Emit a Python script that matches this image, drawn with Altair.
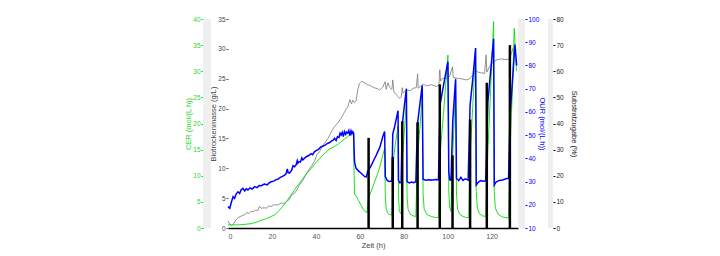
import altair as alt
import pandas as pd

# ---------------- data ----------------
# OUR (mol/(L h)) - blue, right axis 10..100
our_t = [0, 0.8, 1.5, 2.3, 3.0, 3.7, 4.5, 5.3, 6.0, 6.8, 7.6, 8.3, 9.1, 10.0, 11.0, 12.1, 13.2, 14.2,
         15.2, 16.5, 17.8, 19.0, 19.7, 21.0, 22.0, 22.7, 23.8, 24.8, 25.8, 26.5, 27.0, 27.4, 28.0,
         29.0, 29.6, 30.3, 31.0, 31.5, 31.8, 32.3, 33.0, 33.6, 34.1, 34.8, 35.8, 36.8, 37.8, 38.5,
         39.4, 40.3, 41.2, 42.4, 43.4, 44.5, 45.5, 46.3, 47.2, 48.0, 48.5, 49.2, 49.8, 50.5, 51.0,
         51.5, 52.0, 52.5, 53.0, 53.6, 54.0, 54.5, 55.0, 55.5, 56.0, 56.4, 56.8, 57.2,
         57.4, 57.6, 58.3, 59.5, 60.6, 61.8, 62.4, 63.0, 63.6, 64.5, 65.5, 66.5, 67.5, 68.2, 69.0,
         69.8, 70.5, 71.3,
         71.6, 72.5, 73.5, 74.6,
         75.0, 75.8, 76.6, 77.4, 77.6, 78.2, 78.8,
         79.3, 80.2, 81.2, 81.5, 82.5, 83.5, 84.5, 85.5,
         86.2, 87.3, 88.4, 88.8, 90.0, 91.5, 93.0, 94.5, 95.8,
         96.5, 98.3, 100.1, 100.5, 100.9, 101.5,
         102.3, 103.0, 103.6, 104.0, 105.0, 106.0, 107.0, 108.0, 109.3,
         110.2, 111.5, 112.7, 113.0, 114.0, 115.0, 116.0, 117.3,
         118.3, 119.6, 120.9, 121.2, 122.0, 123.5, 125.0, 126.5, 127.7,
         128.4, 129.6, 130.6, 131.4]
our_v = [19.2, 18.5, 21.0, 23.5, 22.8, 24.6, 25.6, 24.9, 26.5, 27.1, 26.0, 26.9, 26.4, 27.3, 26.8, 27.8, 27.4, 28.3,
         28.2, 28.9, 28.6, 29.6, 29.9, 30.3, 30.9, 31.0, 31.8, 32.2, 32.8, 33.5, 35.4, 33.8, 33.6,
         34.9, 36.8, 36.4, 37.2, 39.0, 37.9, 38.6, 38.4, 40.2, 39.3, 40.0, 40.8, 41.2, 42.0, 41.6,
         42.9, 43.4, 43.9, 45.0, 45.3, 45.9, 46.5, 46.8, 47.5, 47.9, 48.6, 47.7, 49.3, 49.0, 50.8,
         50.0, 51.2, 49.4, 51.5, 50.3, 51.3, 50.8, 52.0, 49.8, 51.8, 50.6, 51.5, 50.8,
         43.0, 38.5, 35.7, 34.5, 33.6, 32.5, 32.1, 32.0, 34.5, 35.7, 37.5, 39.5, 41.4, 42.9, 44.5,
         47.0, 49.5, 51.5,
         32.1, 30.4, 30.0, 30.2,
         50.5, 53.5, 57.0, 60.5, 30.5, 29.4, 29.6,
         54.4, 62.0, 70.0, 30.0, 29.4, 29.8, 29.5, 29.9,
         54.4, 63.0, 71.4, 31.0, 30.6, 30.8, 30.7, 30.9, 30.8,
         63.0, 72.5, 81.6, 34.2, 30.8, 30.5,
         56.0, 66.0, 74.0, 31.3, 30.4, 31.8, 30.5, 31.2, 30.6,
         63.0, 75.0, 87.5, 28.5, 29.8, 30.4, 30.1, 30.3,
         64.4, 78.0, 91.5, 28.5, 29.8, 30.5, 30.7, 31.2, 31.4,
         58.7, 75.0, 89.0, 80.0]

# CER (mol/(L h)) - green, left outer axis 0..40
cer_t = [0, 5, 10, 13, 15.2, 17.5, 19.7, 21.5, 22.7, 24.5, 26.5, 28.5, 30.3, 32.2, 34.1, 36.0,
         37.9, 39.8, 41.7, 43.6, 45.5, 47.0, 48.5, 50.0, 51.5, 53.0, 54.5, 55.7, 56.8, 57.2,
         57.4, 57.6, 58.5, 59.5, 60.5, 61.5, 62.5, 63.3, 63.8, 64.5, 66.0, 67.5, 69.0, 70.2, 71.3,
         71.6, 72.0, 72.6, 73.5, 74.6,
         75.0, 76.0, 77.4, 77.6, 78.0, 78.8,
         79.3, 80.2, 81.2, 81.5, 82.0, 83.0, 84.5, 85.5,
         86.2, 87.3, 88.4, 88.8, 89.3, 90.5, 92.5, 94.5, 95.8,
         96.5, 98.3, 100.1, 100.5, 100.9, 101.5,
         102.3, 103.0, 103.6, 104.0, 104.5, 105.5, 107.0, 108.5, 109.6,
         110.2, 111.5, 112.7, 113.0, 113.5, 114.5, 116.0, 117.3,
         118.3, 119.6, 120.9, 121.2, 121.7, 123.0, 125.0, 127.7,
         128.4, 129.5, 130.3, 130.8, 131.3]
cer_v = [0.6, 0.6, 0.8, 1.1, 1.5, 1.8, 2.2, 2.6, 3.1, 3.9, 5.0, 6.2, 7.3, 8.4, 9.5, 10.5,
         11.4, 12.4, 13.3, 14.1, 14.9, 15.3, 15.6, 16.0, 16.5, 17.0, 17.5, 17.9, 18.4, 17.9,
         10.0, 6.5, 6.0, 5.2, 4.4, 3.6, 3.1, 3.0, 5.5, 6.3, 8.0, 9.7, 11.5, 13.5, 15.3,
         6.0, 3.8, 2.9, 2.6, 2.5,
         12.0, 15.5, 19.5, 6.0, 3.2, 2.7,
         13.0, 18.0, 24.2, 6.0, 3.5, 2.6, 2.3, 2.2,
         13.5, 19.0, 25.1, 6.5, 3.6, 2.6, 2.2, 2.0, 2.0,
         14.0, 23.0, 33.1, 7.0, 4.0, 3.2,
         14.0, 21.0, 28.6, 6.5, 3.6, 2.6, 2.2, 2.0, 2.0,
         14.0, 24.0, 34.4, 7.0, 3.7, 2.7, 2.3, 2.2,
         15.0, 27.0, 39.5, 7.0, 3.8, 2.6, 2.1, 1.9,
         15.0, 27.0, 38.2, 34.0, 30.0]

# Biotrockenmasse (g/L) - gray, left inner axis 0..35
btm_t = [0, 0.8, 1.6, 2.5, 3.5, 4.5, 5.5, 6.5, 7.6, 8.5, 9.5, 10.5, 11.4, 12.5, 13.5, 14.3, 15.2,
         16.5, 17.5, 18.5, 19.7, 21.0, 22.7, 24.5, 25.5, 26.5, 28.0, 29.0, 30.3, 31.5, 32.5, 34.1,
         36.0, 37.9, 39.5, 40.5, 41.7, 43.5, 45.5, 47.0, 48.5, 50.0, 51.5, 53.0, 54.5, 55.5, 56.2,
         56.8, 57.6, 58.3, 59.0, 59.8, 60.9, 62.0, 63.6, 65.0, 66.5, 68.2, 69.0, 70.5, 71.5, 72.0,
         72.8, 73.5, 74.6, 75.0, 75.5, 76.6, 77.5, 78.1, 78.9, 79.3, 79.7, 81.2, 83.0, 84.2, 85.7,
         86.3, 86.6, 88.7, 90.5, 92.5, 94.8, 96.0, 96.4, 96.8, 97.8, 99.0, 100.9, 102.2, 102.5,
         103.9, 106.0, 108.4, 110.0, 111.5, 113.0, 115.0, 116.8, 117.5, 117.8, 119.0, 120.6,
         122.5, 124.5, 126.6, 128.0, 129.0, 129.7, 130.4, 131.2]
btm_v = [1.2, 0.6, 0.4, 0.7, 1.3, 1.7, 1.9, 2.1, 2.2, 2.6, 2.4, 2.8, 2.7, 3.0, 2.9, 3.6, 3.3,
         3.4, 3.3, 3.7, 3.6, 3.9, 3.85, 4.2, 4.1, 4.4, 4.8, 5.6, 5.8, 6.5, 7.2, 8.0,
         9.3, 10.3, 11.3, 12.3, 12.8, 14.0, 15.0, 16.1, 17.0, 17.6, 18.4, 19.4, 20.3, 21.5, 20.8,
         21.4, 21.0, 21.3, 23.0, 24.2, 24.6, 24.3, 24.0, 23.8, 23.5, 23.3, 23.1, 23.6, 24.5, 23.2,
         24.3, 23.6, 23.2, 24.8, 22.8, 22.3, 22.0, 21.7, 22.0, 23.5, 22.6, 23.1, 23.0, 23.4, 23.5,
         25.8, 23.4, 24.1, 23.8, 24.0, 23.7, 23.9, 26.5, 24.6, 25.1, 25.0, 25.4, 27.0, 25.2,
         25.1, 25.0, 24.8, 25.0, 25.6, 26.2, 26.0, 25.9, 29.0, 26.1, 27.0, 27.8,
         28.2, 28.3, 28.2, 28.3, 29.2, 30.1, 30.4, 29.8]

# Substratzugabe (%) - black bars, right outer axis 0..80
feed_t = [64.0, 75.0, 79.3, 86.3, 96.4, 102.2, 110.2, 117.8, 128.3]
feed_pct = [34.5, 27.2, 40.8, 40.5, 55.0, 27.8, 41.5, 55.6, 70.0]

x_ticks = [0, 20, 40, 60, 80, 100, 120]

# ---------------- chart ----------------
W, H = 290, 209
FONT = "Liberation Sans"
GREEN = "#00e000"
GREEN_T = "#2ad42a"
BLUE = "#0000ff"
GRAY = "#777777"
BAND = "#efefef"

our_df = pd.DataFrame({"t": our_t, "v": our_v, "i": range(len(our_t))})
cer_df = pd.DataFrame({"t": cer_t, "v": cer_v, "i": range(len(cer_t))})
btm_df = pd.DataFrame({"t": btm_t, "v": btm_v, "i": range(len(btm_t))})
feed_df = pd.DataFrame({"t": feed_t, "v": feed_pct, "zero": [0] * len(feed_t)})
one = pd.DataFrame({"a": [0]})

xscale = alt.Scale(domain=[0, 132], nice=False, zero=False)
x_axis = alt.Axis(values=x_ticks, title="Zeit (h)", ticks=False, domainColor="#000000",
                  domainWidth=1.5, labelFontSize=7, labelColor="#555555", labelPadding=4,
                  titleFontSize=7.5, titleColor="#444444", titlePadding=2, titleFontWeight="normal",
                  grid=False, labelFont=FONT, titleFont=FONT)
x_main = alt.X("t:Q", scale=xscale, axis=x_axis)


def band(x0, x1):
    return alt.Chart(one).mark_rect(color=BAND).encode(
        x=alt.value(x0), x2=alt.value(x1), y=alt.value(0), y2=alt.value(H))


def yaxis(title, orient, offset, values, color, tcolor, titlex, angle, domain=False):
    return alt.Axis(title=title, orient=orient, offset=offset, values=values, grid=False,
                    domain=domain, domainColor=color, domainWidth=1, tickColor=color, tickSize=2,
                    labelColor=tcolor, labelFontSize=6.5, labelPadding=1, labelFont=FONT,
                    titleFont=FONT, titleFontSize=7.5, titleColor=tcolor, titleFontWeight="normal",
                    titleX=titlex, titleY=H / 2, titleAngle=angle, titleAlign="center",
                    titleBaseline="middle")


btm_layer = alt.Chart(btm_df).mark_line(color=GRAY, strokeWidth=0.8).encode(
    x=x_main,
    y=alt.Y("v:Q", scale=alt.Scale(domain=[0, 35], nice=False),
            axis=yaxis("Biotrockenmasse (g/L)", "left", 0, list(range(0, 36, 5)),
                       "#555555", "#444444", -15, 270)),
    order="i:Q")

cer_layer = alt.Chart(cer_df).mark_line(color=GREEN, strokeWidth=0.9).encode(
    x=x_main,
    y=alt.Y("v:Q", scale=alt.Scale(domain=[0, 40], nice=False),
            axis=yaxis("CER (mol/(L h))", "left", 25, list(range(0, 41, 5)),
                       GREEN, GREEN_T, -15, 270, domain=True)),
    order="i:Q")

our_layer = alt.Chart(our_df).mark_line(color=BLUE, strokeWidth=1.5).encode(
    x=x_main,
    y=alt.Y("v:Q", scale=alt.Scale(domain=[10, 100], nice=False, zero=False),
            axis=yaxis("OUR (mol/(L h))", "right", 7, list(range(10, 101, 10)),
                       BLUE, BLUE, 16, 90)),
    order="i:Q")

feed_layer = alt.Chart(feed_df).mark_rule(color="#000000", strokeWidth=2.5).encode(
    x=x_main,
    y=alt.Y("v:Q", scale=alt.Scale(domain=[0, 80], nice=False),
            axis=yaxis("Substratzugabe (%)", "right", 35, list(range(0, 81, 10)),
                       "#000000", "#222222", 20, 90)),
    y2="zero:Q")

chart = alt.layer(
    band(-25, -17), band(W, W + 7), band(W + 30, W + 35),
    btm_layer, cer_layer, our_layer, feed_layer
).resolve_scale(y="independent").properties(
    width=W, height=H,
    autosize=alt.AutoSizeParams(type="none"),
    padding={"left": 228, "top": 19, "right": 720 - 228 - W, "bottom": 256 - 19 - H},
    background="#ffffff"
).configure_view(stroke=None).configure_axis(
    titleFontWeight="normal", labelFont=FONT, titleFont=FONT
)

chart.save("out.html", embed_options={"renderer": "svg", "actions": False})
